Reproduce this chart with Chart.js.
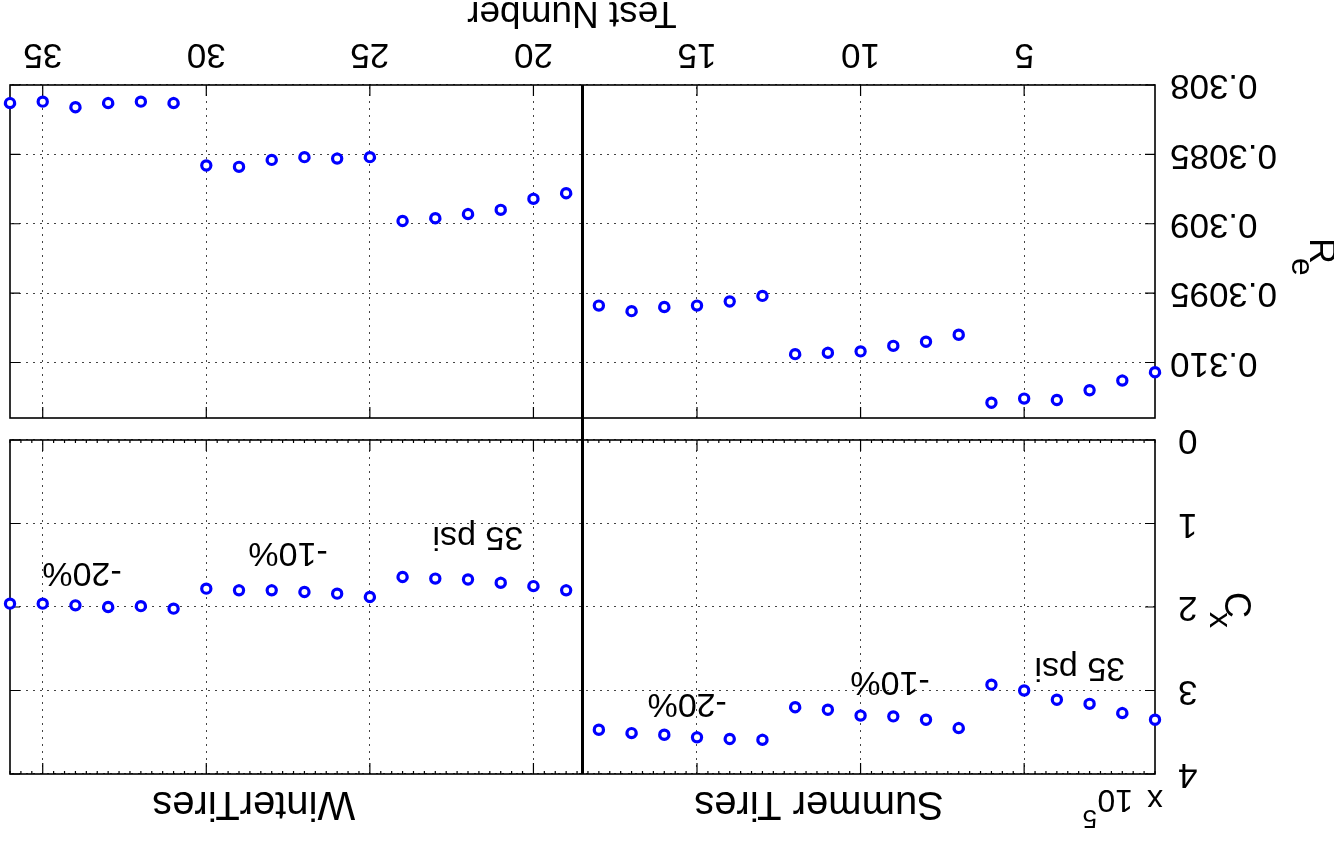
<!DOCTYPE html>
<html>
<head>
<meta charset="utf-8">
<script src="https://cdn.jsdelivr.net/npm/chart.js@4.4.0/dist/chart.umd.min.js"></script>
<style>
html, body { margin: 0; padding: 0; background: #fff; overflow: hidden; }
#wrap { position: absolute; left: 0; top: 0; width: 1334px; height: 842px; transform: rotate(180deg); transform-origin: 50% 50%; }
#cx { position: absolute; left: 0; top: 0; }
#re { position: absolute; left: 0; top: 412px; }
</style>
</head>
<body>
<div id="wrap">
  <canvas id="cx" width="1334" height="412"></canvas>
  <canvas id="re" width="1334" height="430"></canvas>
</div>
<script>
const FONT = '"Liberation Sans", Arial, Helvetica, sans-serif';

// test numbers 1-18 summer tires, 19-36 winter tires
const testNumber = [1, 2, 3, 4, 5, 6, 7, 8, 9, 10, 11, 12, 13, 14, 15, 16, 17, 18,
  19, 20, 21, 22, 23, 24, 25, 26, 27, 28, 29, 30, 31, 32, 33, 34, 35, 36];

// C_x (x 10^5)
const cxValues = [3.35, 3.27, 3.16, 3.11, 3.00, 2.93, 3.45, 3.35, 3.31, 3.30, 3.23, 3.20,
  3.59, 3.58, 3.56, 3.53, 3.51, 3.47,
  1.80, 1.75, 1.71, 1.67, 1.66, 1.64, 1.88, 1.84, 1.82, 1.80, 1.80, 1.78,
  2.02, 1.99, 2.00, 1.98, 1.96, 1.96];

// R_e
const reValues = [0.31007, 0.31013, 0.31020, 0.31027, 0.31026, 0.31029,
  0.30980, 0.30985, 0.30988, 0.30992, 0.30993, 0.30994,
  0.30952, 0.30956, 0.30959, 0.30960, 0.30963, 0.30959,
  0.30878, 0.30882, 0.30890, 0.30893, 0.30896, 0.30898,
  0.30852, 0.30853, 0.30852, 0.30854, 0.30859, 0.30858,
  0.30813, 0.30812, 0.30813, 0.30816, 0.30812, 0.30813];

const xTicks = [5, 10, 15, 20, 25, 30, 35];
const cxTicks = [0, 1, 2, 3, 4];
const cxTickLabels = ['0', '1', '2', '3', '4'];
const reTicks = [0.308, 0.3085, 0.309, 0.3095, 0.310];
const reTickLabels = ['0.308', '0.3085', '0.309', '0.3095', '0.310'];
const groupSplit = 18.5;

const cxNotes = [
  { text: '35 psi', x: 3.3, y: 2.72 },
  { text: '-10%', x: 9.1, y: 2.89 },
  { text: '-20%', x: 15.3, y: 3.15 },
  { text: '35 psi', x: 21.7, y: 1.16 },
  { text: '-10%', x: 27.5, y: 1.34 },
  { text: '-20%', x: 33.8, y: 1.58 }
];
const groupTitles = [
  { text: 'Summer Tires', x: 11.27 },
  { text: 'WinterTires', x: 28.55 }
];

function subTitle(ctx, bx, by, main, sub, subX, subY) {
  ctx.save();
  ctx.translate(bx, by);
  ctx.rotate(-Math.PI / 2);
  ctx.fillStyle = '#000';
  ctx.textAlign = 'left';
  ctx.textBaseline = 'alphabetic';
  ctx.font = '36px ' + FONT;
  ctx.fillText(main, 0, 0);
  ctx.font = '32px ' + FONT;
  ctx.fillText(sub, subX, subY);
  ctx.restore();
}

function framePlugin(o) {
  return {
    id: 'frame' + o.name,
    beforeDatasetsDraw(chart) {
      const { ctx, chartArea: a, scales: { x, y } } = chart;
      ctx.save();
      ctx.strokeStyle = '#000';
      ctx.lineWidth = 1.6;
      ctx.strokeRect(a.left, a.top, a.right - a.left, a.bottom - a.top);
      ctx.lineWidth = 1.2;
      ctx.beginPath();
      xTicks.forEach(v => {
        const px = x.getPixelForValue(v);
        ctx.moveTo(px, a.top); ctx.lineTo(px, a.top + 11);
        ctx.moveTo(px, a.bottom); ctx.lineTo(px, a.bottom - 11);
      });
      o.yTicks.forEach(v => {
        const py = y.getPixelForValue(v);
        ctx.moveTo(a.left, py); ctx.lineTo(a.left + 10, py);
        ctx.moveTo(a.right, py); ctx.lineTo(a.right - 10, py);
      });
      if (o.minor) {
        for (let v = 1; v <= 36; v += 1 / 3) {
          const px = x.getPixelForValue(v);
          ctx.moveTo(px, a.top); ctx.lineTo(px, a.top + 3);
          ctx.moveTo(px, a.bottom); ctx.lineTo(px, a.bottom - 3);
        }
      }
      ctx.stroke();
      // separator between summer and winter tests
      const sx = x.getPixelForValue(groupSplit);
      ctx.lineWidth = 3;
      ctx.beginPath();
      ctx.moveTo(sx, o.top ? a.top : 0);
      ctx.lineTo(sx, o.top ? chart.height : a.bottom);
      ctx.stroke();
      ctx.restore();
    },
    afterDraw(chart) {
      const { ctx, scales: { x, y } } = chart;
      ctx.save();
      ctx.fillStyle = '#000';
      if (o.top) {
        ctx.font = '34px ' + FONT;
        ctx.textAlign = 'center';
        ctx.textBaseline = 'middle';
        cxNotes.forEach(n => ctx.fillText(n.text, x.getPixelForValue(n.x), y.getPixelForValue(n.y)));
        ctx.font = '40px ' + FONT;
        ctx.textBaseline = 'alphabetic';
        groupTitles.forEach(t => ctx.fillText(t.text, x.getPixelForValue(t.x), 50));
        ctx.textAlign = 'left';
        ctx.font = '32px ' + FONT;
        ctx.fillText('x', 171, 52);
        ctx.fillText('10', 201, 52);
        ctx.font = '26px ' + FONT;
        ctx.fillText('5', 237, 32);
        subTitle(ctx, 109, 250, 'C', 'x', 20, 15);
      } else {
        ctx.font = '37px ' + FONT;
        ctx.textAlign = 'center';
        ctx.textBaseline = 'alphabetic';
        ctx.fillText('Test Number', 762, 428);
        subTitle(ctx, 24, 192, 'R', 'e', 20, 18);
      }
      ctx.restore();
    }
  };
}

function makeChart(id, values, yMin, yMax, yTicks, yLabels, o) {
  return new Chart(document.getElementById(id), {
    type: 'scatter',
    data: {
      datasets: [{
        data: testNumber.map((t, i) => ({ x: t, y: values[i] })),
        pointStyle: 'circle',
        pointRadius: 4.6,
        pointBorderWidth: 3.2,
        borderColor: '#0000ff',
        backgroundColor: '#ffffff',
        showLine: false,
        clip: false
      }]
    },
    options: {
      responsive: false,
      animation: false,
      events: [],
      layout: { padding: o.padding },
      plugins: { legend: { display: false }, tooltip: { enabled: false } },
      scales: {
        x: {
          type: 'linear',
          min: 1,
          max: 36,
          afterBuildTicks: s => { s.ticks = xTicks.map(v => ({ value: v })); },
          afterFit: s => { s.height = o.xHeight; s.paddingLeft = 0; s.paddingRight = 0; },
          ticks: {
            display: !o.top,
            autoSkip: false,
            maxRotation: 0,
            padding: 10,
            color: '#000',
            font: { family: FONT, size: 35 },
            callback: v => String(v)
          },
          grid: { drawTicks: false, color: '#444', lineWidth: 1 },
          border: { display: false, dash: [2, 5] }
        },
        y: {
          type: 'linear',
          min: yMin,
          max: yMax,
          afterBuildTicks: s => { s.ticks = yTicks.map(v => ({ value: v })); },
          afterFit: s => { s.width = 179; s.paddingTop = 0; s.paddingBottom = 0; },
          ticks: {
            autoSkip: false,
            padding: o.yPad,
            color: '#000',
            font: { family: FONT, size: 35 },
            callback: (v, i) => yLabels[i]
          },
          grid: { drawTicks: false, color: '#444', lineWidth: 1 },
          border: { display: false, dash: [2, 5] }
        }
      }
    },
    plugins: [framePlugin(Object.assign({ yTicks: yTicks }, o))]
  });
}

makeChart('cx', cxValues, 0, 4, cxTicks, cxTickLabels,
  { name: 'cx', top: true, minor: true, padding: { top: 68, bottom: 10, left: 0, right: 10 }, xHeight: 0, yPad: 23 });
makeChart('re', reValues, 0.308, 0.3104, reTicks, reTickLabels,
  { name: 're', top: false, minor: false, padding: { top: 12, bottom: 0, left: 0, right: 10 }, xHeight: 85, yPad: 15 });
</script>
</body>
</html>
